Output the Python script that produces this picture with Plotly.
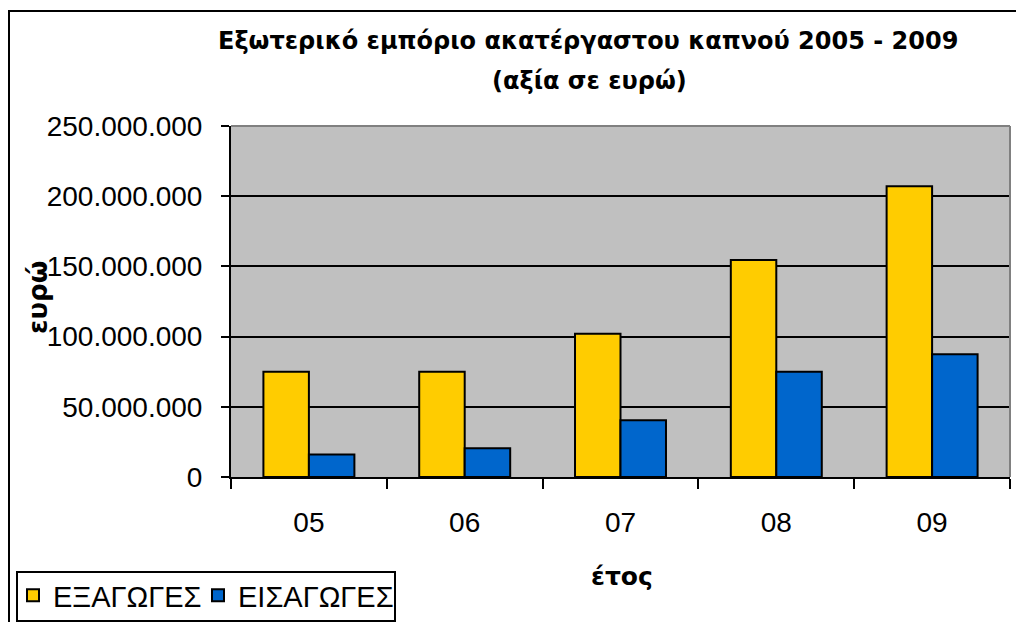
import plotly.graph_objects as go

years = ["05", "06", "07", "08", "09"]
exports = [75_000_000, 75_000_000, 102_000_000, 154_500_000, 207_000_000]
imports = [16_000_000, 20_500_000, 40_500_000, 75_000_000, 87_500_000]
series_names = ["ΕΞΑΓΩΓΕΣ", "ΕΙΣΑΓΩΓΕΣ"]
title_lines = ["Εξωτερικό εμπόριο ακατέργαστου καπνού 2005 - 2009", "(αξία σε ευρώ)"]
x_title = "έτος"
y_title = "ευρώ"

# page has an 8px body margin; figure is sized to fill the rest of the window
OFF = 8
W, H = 1024 - OFF, 622 - OFF
# plot area in page pixel coords
PL, PT, PR, PB = 231, 126, 1010, 477
PW, PH = PR - PL, PB - PT


def px(xp):
    return (xp - PL) / PW


def py(yp):
    return (PB - yp) / PH


FONT = "Liberation Sans, Arial, sans-serif"
TFONT = "DejaVu Sans, Verdana, sans-serif"

fig = go.Figure()
fig.add_trace(go.Bar(x=years, y=exports, name=series_names[0], legend="legend",
                     marker=dict(color="#FFCC00", line=dict(color="black", width=2))))
fig.add_trace(go.Bar(x=years, y=imports, name=series_names[1], legend="legend2",
                     marker=dict(color="#0066CC", line=dict(color="black", width=2))))

leg_common = dict(orientation="h", xanchor="left", yanchor="top",
                  bgcolor="rgba(0,0,0,0)", borderwidth=0,
                  font=dict(family=FONT, size=29), itemwidth=30)

fig.update_layout(
    width=W, height=H,
    margin=dict(l=PL - OFF, r=W - (PR - OFF), t=PT - OFF, b=H - (PB - OFF), autoexpand=False),
    paper_bgcolor="white",
    plot_bgcolor="#C0C0C0",
    barmode="group", bargap=0.416, bargroupgap=0,
    separators=",.",
    font=dict(family=FONT, size=28, color="black"),
    showlegend=True,
    legend=dict(x=px(13), y=py(570), **leg_common),
    legend2=dict(x=px(198), y=py(570), **leg_common),
)

fig.update_xaxes(type="category", tickson="boundaries", ticks="outside", ticklen=10,
                 tickwidth=2, tickcolor="black", showline=True, linecolor="black",
                 linewidth=2, showgrid=False, ticklabelstandoff=19,
                 tickfont=dict(family=FONT, size=28))
fig.update_yaxes(range=[0, 250_000_000], dtick=50_000_000, tickformat=",d",
                 ticks="outside", ticklen=8, tickwidth=2, tickcolor="black",
                 showline=True, linecolor="black", linewidth=2,
                 showgrid=True, gridcolor="black", gridwidth=2, zeroline=False,
                 ticklabelstandoff=13, tickfont=dict(family=FONT, size=28))

# plot area border (top & right, gray)
fig.add_shape(type="line", xref="paper", yref="paper", x0=0, x1=1, y0=1, y1=1,
              line=dict(color="#808080", width=2))
fig.add_shape(type="line", xref="paper", yref="paper", x0=1, x1=1, y0=0, y1=1,
              line=dict(color="#808080", width=2))
# outer chart border
fig.add_shape(type="rect", xref="paper", yref="paper",
              x0=px(9), x1=px(1060), y0=py(660), y1=py(11),
              line=dict(color="black", width=2), fillcolor="rgba(0,0,0,0)")
# legend frame
fig.add_shape(type="rect", xref="paper", yref="paper",
              x0=px(17), x1=px(395), y0=py(621), y1=py(572),
              line=dict(color="black", width=2), fillcolor="white", layer="above")

fig.add_annotation(text=f"<b>{title_lines[0]}</b>", xref="paper", yref="paper",
                   x=px(588), y=py(41), xanchor="center", yanchor="middle",
                   showarrow=False, font=dict(family=TFONT, size=24))
fig.add_annotation(text=f"<b>{title_lines[1]}</b>", xref="paper", yref="paper",
                   x=px(589), y=py(81), xanchor="center", yanchor="middle",
                   showarrow=False, font=dict(family=TFONT, size=24))
fig.add_annotation(text=f"<b>{x_title}</b>", xref="paper", yref="paper",
                   x=px(622), y=py(576), xanchor="center", yanchor="middle",
                   showarrow=False, font=dict(family=TFONT, size=25))
fig.add_annotation(text=f"<b>{y_title}</b>", xref="paper", yref="paper",
                   x=px(38), y=py(298), xanchor="center", yanchor="middle",
                   textangle=-90, showarrow=False, font=dict(family=TFONT, size=26))

fig.write_html("out.html")
